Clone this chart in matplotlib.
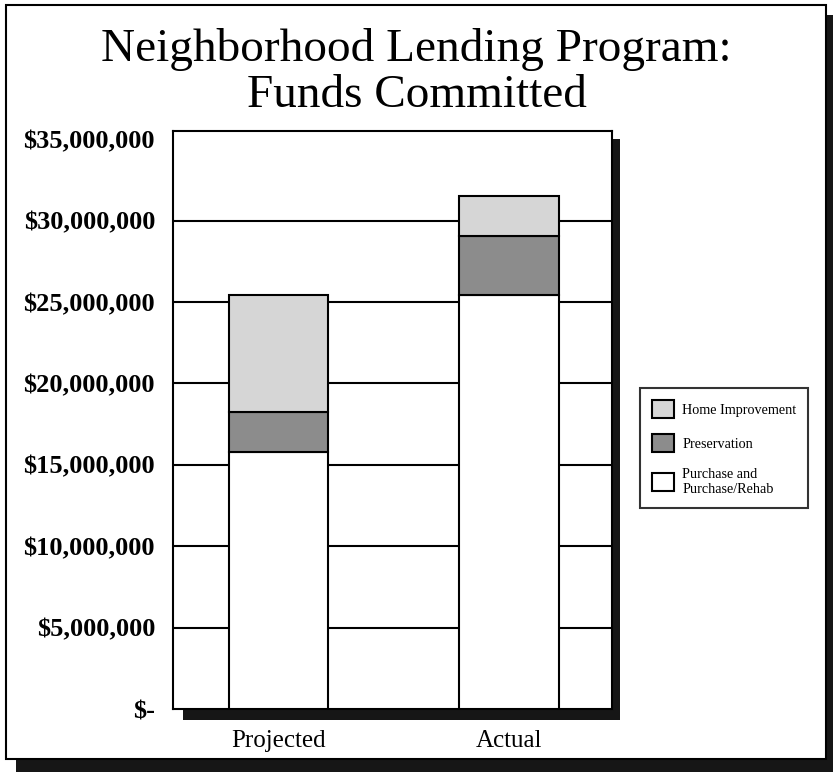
"""
Neighborhood Lending Program: Funds Committed
Stacked bars, projected vs actual, by loan type.
"""

import matplotlib.pyplot as plt
from matplotlib.patches import Rectangle
from matplotlib.ticker import FuncFormatter

# ── Data ──────────────────────────────────────────────────────────────────────
categories = ["Projected", "Actual"]
purchase = [15_800_000, 25_400_000]       # Purchase and Purchase/Rehab
preservation = [2_450_000, 3_650_000]
home_improvement = [7_150_000, 2_450_000]

series_names = ["Purchase and\nPurchase/Rehab", "Preservation", "Home Improvement"]
y_ticks = [0, 5_000_000, 10_000_000, 15_000_000, 20_000_000,
           25_000_000, 30_000_000, 35_000_000]

# ── Style ─────────────────────────────────────────────────────────────────────
plt.rcParams['font.family'] = ['Liberation Serif', 'DejaVu Serif']
colors = ["#ffffff", "#8c8c8c", "#d6d6d6"]
W, H = 833, 772

fig = plt.figure(figsize=(W / 100, H / 100), dpi=100)

def px_rect(x0, y0, x1, y1, **kw):
    # rectangle given in pixel coords (origin top-left) -> figure fraction
    return Rectangle((x0 / W, 1 - y1 / H), (x1 - x0) / W, (y1 - y0) / H,
                     transform=fig.transFigure, **kw)

# outer frame with drop shadow
fig.patches.append(px_rect(16, 15, 833, 772, facecolor="#161616",
                           edgecolor="none", zorder=-3))
fig.patches.append(px_rect(6, 5, 826, 759, facecolor="white",
                           edgecolor="black", linewidth=1.5, zorder=-2))

# plot area shadow
fig.patches.append(px_rect(183, 139, 620, 720, facecolor="#161616",
                           edgecolor="none", zorder=-1))

ax_l, ax_t, ax_r, ax_b = 173, 131, 612, 709
ax = fig.add_axes([ax_l / W, 1 - ax_b / H, (ax_r - ax_l) / W, (ax_b - ax_t) / H])
ax.set_facecolor("white")

# ── Bars ──────────────────────────────────────────────────────────────────────
x = [0, 1]
bottom = [0, 0]
handles = []
for vals, name, c in zip([purchase, preservation, home_improvement],
                         series_names, colors):
    h = ax.bar(x, vals, width=0.43, bottom=bottom, color=c,
               edgecolor="black", linewidth=1.5, zorder=3, label=name)
    handles.append(h)
    bottom = [b + v for b, v in zip(bottom, vals)]

ax.set_xlim(-0.458, 1.447)
ax.set_ylim(0, 35_500_000)
ax.set_yticks(y_ticks)
ax.yaxis.set_major_formatter(
    FuncFormatter(lambda v, p: "$-" if v == 0 else f"${v:,.0f}"))
ax.set_xticks(x)
ax.set_xticklabels(categories, fontsize=18)
ax.tick_params(axis='y', length=0, pad=13, labelsize=19)
ax.tick_params(axis='x', length=0, pad=15)
for lab in ax.get_yticklabels():
    lab.set_fontweight("bold")

ax.yaxis.grid(True, color="black", linewidth=1.5, zorder=1)
ax.set_axisbelow(True)
ax.get_ygridlines()[0].set_visible(False)
ax.get_ygridlines()[-1].set_visible(False)
for s in ax.spines.values():
    s.set_linewidth(1.5)
    s.set_color("black")

# ── Title ─────────────────────────────────────────────────────────────────────
fig.text(0.5, 1 - 28 / H, "Neighborhood Lending Program:\nFunds Committed",
         ha="center", va="top", fontsize=34, linespacing=1.12)

# ── Legend ────────────────────────────────────────────────────────────────────
leg = fig.legend(handles[::-1], series_names[::-1],
                 loc="center", bbox_to_anchor=(724 / W, 1 - 448 / H),
                 fontsize=10.2, frameon=True, fancybox=False,
                 handlelength=1.6, handleheight=1.6, handletextpad=0.55,
                 borderpad=0.85, labelspacing=1.1)
leg.get_frame().set_edgecolor("black")
leg.get_frame().set_linewidth(1.5)

fig.savefig("out.png", dpi=100)
